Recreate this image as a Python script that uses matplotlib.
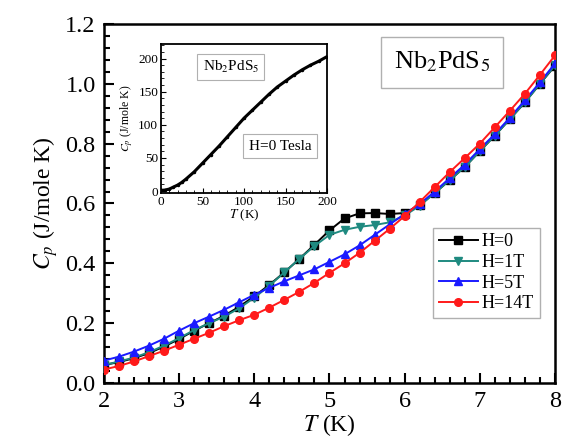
import matplotlib
matplotlib.use("Agg")
import matplotlib.pyplot as plt
from matplotlib.ticker import MultipleLocator

plt.rcParams['font.family'] = ['Liberation Serif', 'DejaVu Serif']
plt.rcParams['mathtext.fontset'] = 'stix'

# Main panel data (T in K, Cp in J/mole K)
T = [2.0, 2.2, 2.4, 2.6, 2.8, 3.0, 3.2, 3.4, 3.6, 3.8, 4.0, 4.2, 4.4, 4.6, 4.8,
     5.0, 5.2, 5.4, 5.6, 5.8, 6.0, 6.2, 6.4, 6.6, 6.8, 7.0, 7.2, 7.4, 7.6, 7.8, 8.0]
cp_h0 = [0.060, 0.070, 0.083, 0.100, 0.122, 0.147, 0.175, 0.200, 0.225, 0.255, 0.290,
         0.328, 0.370, 0.415, 0.462, 0.510, 0.550, 0.567, 0.568, 0.565, 0.568, 0.595,
         0.635, 0.678, 0.722, 0.775, 0.827, 0.882, 0.938, 1.000, 1.060]
cp_h1 = [0.060, 0.072, 0.085, 0.103, 0.125, 0.150, 0.177, 0.200, 0.222, 0.250, 0.285,
         0.325, 0.370, 0.415, 0.458, 0.495, 0.512, 0.522, 0.528, 0.537, 0.560, 0.592,
         0.635, 0.678, 0.722, 0.775, 0.827, 0.882, 0.938, 1.000, 1.062]
cp_h5 = [0.075, 0.088, 0.105, 0.125, 0.148, 0.175, 0.200, 0.222, 0.245, 0.270, 0.295,
         0.318, 0.340, 0.360, 0.380, 0.405, 0.430, 0.460, 0.495, 0.530, 0.565, 0.598,
         0.640, 0.685, 0.730, 0.782, 0.832, 0.887, 0.945, 1.005, 1.068]
cp_h14 = [0.045, 0.057, 0.072, 0.090, 0.108, 0.128, 0.148, 0.168, 0.190, 0.210, 0.228,
          0.252, 0.278, 0.305, 0.335, 0.368, 0.400, 0.435, 0.475, 0.515, 0.558, 0.605,
          0.655, 0.705, 0.752, 0.800, 0.855, 0.910, 0.967, 1.030, 1.095]

# Inset data (H = 0 Tesla)
T_in = [0, 5, 10, 15, 20, 25, 30, 40, 50, 60, 70, 80, 90, 100, 110, 120, 130, 140,
        150, 160, 170, 180, 190, 200]
cp_in = [1, 1.5, 3, 6, 9, 13, 18, 29, 42, 55, 68, 82, 96, 110, 122, 134, 146, 157,
         166, 175, 183, 190, 196, 203]

labels = ['H=0', 'H=1T', 'H=5T', 'H=14T']
colors = ['#000000', '#1f8a80', '#1a1aff', '#ff1a1a']
markers = ['s', 'v', '^', 'o']

fig = plt.figure(figsize=(5.62, 4.44), dpi=100)
ax = fig.add_axes([0.185, 0.1374, 0.8025, 0.8086])

series = [cp_h0, cp_h1, cp_h5, cp_h14]
for i, (y, lab, c, m) in enumerate(zip(series, labels, colors, markers)):
    ax.plot(T, y, color=c, marker=m, markersize=5.5, linewidth=1.4, label=lab, zorder=2 + i)

ax.set_xlim(2, 8)
ax.set_ylim(0, 1.2)
ax.xaxis.set_major_locator(MultipleLocator(1))
ax.xaxis.set_minor_locator(MultipleLocator(0.2))
ax.yaxis.set_major_locator(MultipleLocator(0.2))
ax.yaxis.set_minor_locator(MultipleLocator(0.04))
ax.yaxis.set_major_formatter(matplotlib.ticker.FormatStrFormatter('%.1f'))
ax.tick_params(which='both', direction='in', top=False, right=False, width=1.5)
ax.tick_params(which='major', length=7, labelsize=17.5, pad=6)
ax.tick_params(which='minor', length=4)
for s in ax.spines.values():
    s.set_linewidth(1.8)
ax.set_xlabel(r'$T$ (K)', fontsize=17, labelpad=0)
ax.set_ylabel(r'$C_p$ (J/mole K)', fontsize=17, labelpad=4)

ax.text(0.749, 0.894, r'Nb$_2$PdS$_5$', transform=ax.transAxes, fontsize=19,
        ha='center', va='center',
        bbox=dict(boxstyle='square,pad=0.5', fc='white', ec='#b0b0b0', lw=1.0))

leg = ax.legend(loc='upper left', bbox_to_anchor=(0.73, 0.432), fontsize=13,
                frameon=True, fancybox=False, edgecolor='#b0b0b0', framealpha=1,
                handlelength=2.2, handletextpad=0.2, borderpad=0.3, labelspacing=0.2,
                borderaxespad=0)
leg.get_frame().set_linewidth(1.0)

# Inset
ai = fig.add_axes([0.2865, 0.5653, 0.2954, 0.3356])
ai.plot(T_in, cp_in, color='black', linewidth=2.2, marker='o', markersize=1.5)
ai.set_xlim(0, 200)
ai.set_ylim(-3, 222)
ai.xaxis.set_major_locator(MultipleLocator(50))
ai.xaxis.set_minor_locator(MultipleLocator(10))
ai.yaxis.set_major_locator(MultipleLocator(50))
ai.yaxis.set_minor_locator(MultipleLocator(10))
ai.tick_params(which='both', direction='in', top=False, right=False, labelsize=9.5, pad=2)
ai.tick_params(which='major', length=3.5)
ai.tick_params(which='minor', length=2)
for s in ai.spines.values():
    s.set_linewidth(1.3)
ai.set_xlabel(r'$T$ (K)', fontsize=9.5, labelpad=0)
ai.set_ylabel(r'$C_p$ (J/mole K)', fontsize=8.5, labelpad=2)
ai.text(0.42, 0.845, r'Nb$_2$PdS$_5$', transform=ai.transAxes, fontsize=11,
        ha='center', va='center',
        bbox=dict(boxstyle='square,pad=0.35', fc='white', ec='#b0b0b0', lw=0.8))
ai.text(0.717, 0.315, 'H=0 Tesla', transform=ai.transAxes, fontsize=11,
        ha='center', va='center',
        bbox=dict(boxstyle='square,pad=0.35', fc='white', ec='#b0b0b0', lw=0.8))

fig.savefig('out.png', dpi=100)
